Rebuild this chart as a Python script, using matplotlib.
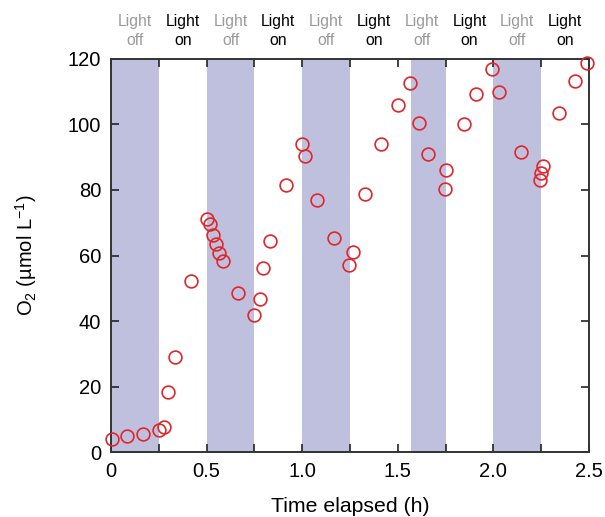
import matplotlib
matplotlib.use("Agg")
import matplotlib.pyplot as plt
from matplotlib.ticker import MultipleLocator, FuncFormatter

plt.rcParams['font.family'] = ['Liberation Sans', 'DejaVu Sans']
plt.rcParams['mathtext.fontset'] = 'custom'
plt.rcParams['mathtext.rm'] = 'Liberation Sans'
plt.rcParams['mathtext.it'] = 'Liberation Sans:italic'

# Data
time_h = [0.004, 0.085, 0.169, 0.251, 0.279, 0.30, 0.336, 0.417, 0.50, 0.518,
          0.535, 0.551, 0.567, 0.584, 0.666, 0.748, 0.781, 0.797, 0.832, 0.917,
          0.997, 1.016, 1.079, 1.165, 1.246, 1.264, 1.330, 1.412, 1.503, 1.562,
          1.613, 1.660, 1.745, 1.752, 1.845, 1.911, 1.994, 2.028, 2.143, 2.242,
          2.251, 2.259, 2.341, 2.427, 2.491]
o2 = [4.0, 4.8, 5.6, 6.6, 7.7, 18.2, 28.9, 52.3, 71.1, 69.5,
      66.4, 63.6, 60.9, 58.2, 48.6, 41.7, 46.7, 56.1, 64.5, 81.6,
      94.1, 90.4, 76.8, 65.4, 57.0, 61.1, 78.9, 94.1, 106.1, 112.7,
      100.5, 91.1, 80.2, 86.1, 100.2, 109.2, 116.9, 109.8, 91.7, 83.0,
      85.3, 87.4, 103.4, 113.3, 118.8]
dark_starts = [0.0, 0.5, 1.0, 1.57, 2.0]
dark_ends = [0.25, 0.75, 1.25, 1.75, 2.25]
label_pos = [0.125, 0.375, 0.625, 0.875, 1.125, 1.375, 1.625, 1.875, 2.125, 2.375]
label_text = ["Light\noff", "Light\non"] * 5

fig = plt.figure(figsize=(6.05, 5.17), dpi=100)
ax = fig.add_axes([0.1835, 0.1257, 0.79, 0.7602])

for s, e in zip(dark_starts, dark_ends):
    ax.axvspan(s, e, color='#bfc0de', lw=0, zorder=0)

ax.plot(time_h, o2, 'o', mfc='none', mec='#e0262a', mew=1.2, ms=9.2, clip_on=False, zorder=3)

ax.set_xlim(0, 2.5)
ax.set_ylim(0, 120)
ax.xaxis.set_major_locator(MultipleLocator(0.5))
ax.xaxis.set_minor_locator(MultipleLocator(0.25))
ax.xaxis.set_major_formatter(FuncFormatter(lambda v, p: '0' if v == 0 else f'{v:.1f}'))
ax.yaxis.set_major_locator(MultipleLocator(20))

ax.tick_params(axis='both', which='both', direction='in', top=True, right=True,
               length=6, width=1.2, color='#222222', labelsize=14.5, pad=7)
for sp in ax.spines.values():
    sp.set_linewidth(1.4)
    sp.set_color('#333333')

ax.set_xlabel('Time elapsed (h)', fontsize=15.3, labelpad=12)
ax.set_ylabel('O$_2$ (\u00b5mol L$^{-1}$)', fontsize=14.5, labelpad=21)

for x, t in zip(label_pos, label_text):
    col = '#9a9a9a' if 'off' in t else 'black'
    ax.text(x, 1.028, t, transform=ax.get_xaxis_transform(), ha='center', va='bottom',
            fontsize=11.3, color=col, linespacing=1.35)

fig.savefig('out.png', dpi=100)
